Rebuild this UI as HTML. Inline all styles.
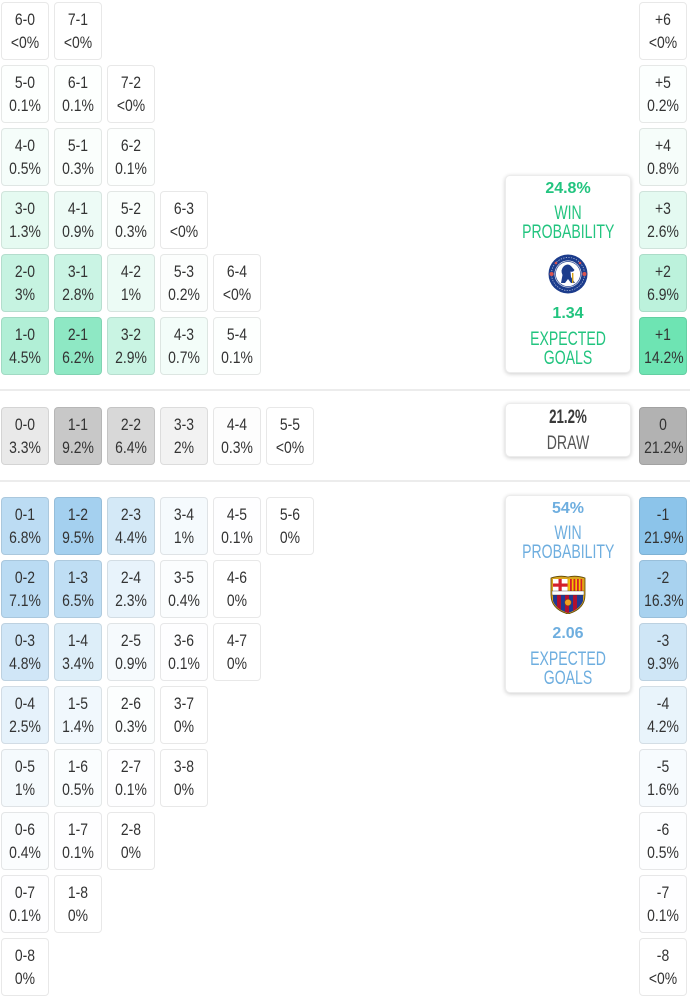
<!DOCTYPE html>
<html><head><meta charset="utf-8">
<style>
html,body{margin:0;padding:0;background:#fff;}
body{width:690px;height:998px;position:relative;overflow:hidden;font-family:"Liberation Sans",sans-serif;}
.c{position:absolute;width:46px;height:51px;padding-top:5px;border:1px solid rgba(0,0,0,0.09);border-radius:4px;text-align:center;font-size:17px;line-height:23px;color:#333;}
.c div{transform:scaleX(0.82);white-space:nowrap;}
.hr{position:absolute;left:0;width:690px;height:2px;background:#ececec;}
.s{position:absolute;left:505px;width:124px;border:1px solid #ececec;border-radius:5px;background:#fff;box-shadow:0 1px 4px rgba(0,0,0,0.2);}
.s .t{position:absolute;left:0;right:0;height:24px;line-height:24px;text-align:center;white-space:nowrap;}
.s .b{font-weight:bold;font-size:16px;}
.s .w{font-size:19px;transform:scaleX(0.74);}
.g{color:#22c47f;}
.bl{color:#6eaedf;}
.cr{position:absolute;left:42px;width:40px;height:40px;}
</style></head><body>

<!-- home rows -->
<div class="c" style="left:1px;top:2px;"><div>6-0</div><div>&lt;0%</div></div>
<div class="c" style="left:54px;top:2px;"><div>7-1</div><div>&lt;0%</div></div>

<div class="c" style="left:1px;top:65px;background:rgba(81,220,164,0.01)"><div>5-0</div><div>0.1%</div></div>
<div class="c" style="left:54px;top:65px;background:rgba(81,220,164,0.01)"><div>6-1</div><div>0.1%</div></div>
<div class="c" style="left:107px;top:65px;"><div>7-2</div><div>&lt;0%</div></div>

<div class="c" style="left:1px;top:128px;background:rgba(81,220,164,0.06)"><div>4-0</div><div>0.5%</div></div>
<div class="c" style="left:54px;top:128px;background:rgba(81,220,164,0.03)"><div>5-1</div><div>0.3%</div></div>
<div class="c" style="left:107px;top:128px;background:rgba(81,220,164,0.01)"><div>6-2</div><div>0.1%</div></div>

<div class="c" style="left:1px;top:191px;background:rgba(81,220,164,0.15)"><div>3-0</div><div>1.3%</div></div>
<div class="c" style="left:54px;top:191px;background:rgba(81,220,164,0.1)"><div>4-1</div><div>0.9%</div></div>
<div class="c" style="left:107px;top:191px;background:rgba(81,220,164,0.03)"><div>5-2</div><div>0.3%</div></div>
<div class="c" style="left:160px;top:191px;"><div>6-3</div><div>&lt;0%</div></div>

<div class="c" style="left:1px;top:254px;background:rgba(81,220,164,0.33)"><div>2-0</div><div>3%</div></div>
<div class="c" style="left:54px;top:254px;background:rgba(81,220,164,0.3)"><div>3-1</div><div>2.8%</div></div>
<div class="c" style="left:107px;top:254px;background:rgba(81,220,164,0.11)"><div>4-2</div><div>1%</div></div>
<div class="c" style="left:160px;top:254px;background:rgba(81,220,164,0.02)"><div>5-3</div><div>0.2%</div></div>
<div class="c" style="left:213px;top:254px;"><div>6-4</div><div>&lt;0%</div></div>

<div class="c" style="left:1px;top:317px;background:rgba(81,220,164,0.45)"><div>1-0</div><div>4.5%</div></div>
<div class="c" style="left:54px;top:317px;background:rgba(81,220,164,0.65)"><div>2-1</div><div>6.2%</div></div>
<div class="c" style="left:107px;top:317px;background:rgba(81,220,164,0.31)"><div>3-2</div><div>2.9%</div></div>
<div class="c" style="left:160px;top:317px;background:rgba(81,220,164,0.07)"><div>4-3</div><div>0.7%</div></div>
<div class="c" style="left:213px;top:317px;background:rgba(81,220,164,0.01)"><div>5-4</div><div>0.1%</div></div>

<!-- right home -->
<div class="c" style="left:639px;top:2px;"><div>+6</div><div>&lt;0%</div></div>
<div class="c" style="left:639px;top:65px;background:rgba(33,213,139,0.01)"><div>+5</div><div>0.2%</div></div>
<div class="c" style="left:639px;top:128px;background:rgba(33,213,139,0.04)"><div>+4</div><div>0.8%</div></div>
<div class="c" style="left:639px;top:191px;background:rgba(33,213,139,0.12)"><div>+3</div><div>2.6%</div></div>
<div class="c" style="left:639px;top:254px;background:rgba(33,213,139,0.3)"><div>+2</div><div>6.9%</div></div>
<div class="c" style="left:639px;top:317px;background:rgba(33,213,139,0.65)"><div>+1</div><div>14.2%</div></div>

<div class="hr" style="top:389px;"></div>

<!-- draw -->
<div class="c" style="left:1px;top:407px;background:rgba(198,198,198,0.38)"><div>0-0</div><div>3.3%</div></div>
<div class="c" style="left:54px;top:407px;background:rgba(198,198,198,0.97)"><div>1-1</div><div>9.2%</div></div>
<div class="c" style="left:107px;top:407px;background:rgba(198,198,198,0.68)"><div>2-2</div><div>6.4%</div></div>
<div class="c" style="left:160px;top:407px;background:rgba(198,198,198,0.23)"><div>3-3</div><div>2%</div></div>
<div class="c" style="left:213px;top:407px;background:rgba(198,198,198,0.04)"><div>4-4</div><div>0.3%</div></div>
<div class="c" style="left:266px;top:407px;"><div>5-5</div><div>&lt;0%</div></div>
<div class="c" style="left:639px;top:407px;background:rgba(176,176,176,0.97)"><div>0</div><div>21.2%</div></div>

<div class="hr" style="top:480px;"></div>

<!-- away rows -->
<div class="c" style="left:1px;top:497px;background:rgba(164,208,239,0.74)"><div>0-1</div><div>6.8%</div></div>
<div class="c" style="left:54px;top:497px;background:rgba(164,208,239,1)"><div>1-2</div><div>9.5%</div></div>
<div class="c" style="left:107px;top:497px;background:rgba(164,208,239,0.47)"><div>2-3</div><div>4.4%</div></div>
<div class="c" style="left:160px;top:497px;background:rgba(164,208,239,0.11)"><div>3-4</div><div>1%</div></div>
<div class="c" style="left:213px;top:497px;background:rgba(164,208,239,0.01)"><div>4-5</div><div>0.1%</div></div>
<div class="c" style="left:266px;top:497px;"><div>5-6</div><div>0%</div></div>

<div class="c" style="left:1px;top:560px;background:rgba(164,208,239,0.76)"><div>0-2</div><div>7.1%</div></div>
<div class="c" style="left:54px;top:560px;background:rgba(164,208,239,0.7)"><div>1-3</div><div>6.5%</div></div>
<div class="c" style="left:107px;top:560px;background:rgba(164,208,239,0.25)"><div>2-4</div><div>2.3%</div></div>
<div class="c" style="left:160px;top:560px;background:rgba(164,208,239,0.04)"><div>3-5</div><div>0.4%</div></div>
<div class="c" style="left:213px;top:560px;"><div>4-6</div><div>0%</div></div>

<div class="c" style="left:1px;top:623px;background:rgba(164,208,239,0.52)"><div>0-3</div><div>4.8%</div></div>
<div class="c" style="left:54px;top:623px;background:rgba(164,208,239,0.37)"><div>1-4</div><div>3.4%</div></div>
<div class="c" style="left:107px;top:623px;background:rgba(164,208,239,0.1)"><div>2-5</div><div>0.9%</div></div>
<div class="c" style="left:160px;top:623px;background:rgba(164,208,239,0.01)"><div>3-6</div><div>0.1%</div></div>
<div class="c" style="left:213px;top:623px;"><div>4-7</div><div>0%</div></div>

<div class="c" style="left:1px;top:686px;background:rgba(164,208,239,0.27)"><div>0-4</div><div>2.5%</div></div>
<div class="c" style="left:54px;top:686px;background:rgba(164,208,239,0.15)"><div>1-5</div><div>1.4%</div></div>
<div class="c" style="left:107px;top:686px;background:rgba(164,208,239,0.03)"><div>2-6</div><div>0.3%</div></div>
<div class="c" style="left:160px;top:686px;"><div>3-7</div><div>0%</div></div>

<div class="c" style="left:1px;top:749px;background:rgba(164,208,239,0.11)"><div>0-5</div><div>1%</div></div>
<div class="c" style="left:54px;top:749px;background:rgba(164,208,239,0.05)"><div>1-6</div><div>0.5%</div></div>
<div class="c" style="left:107px;top:749px;background:rgba(164,208,239,0.01)"><div>2-7</div><div>0.1%</div></div>
<div class="c" style="left:160px;top:749px;"><div>3-8</div><div>0%</div></div>

<div class="c" style="left:1px;top:812px;background:rgba(164,208,239,0.04)"><div>0-6</div><div>0.4%</div></div>
<div class="c" style="left:54px;top:812px;background:rgba(164,208,239,0.01)"><div>1-7</div><div>0.1%</div></div>
<div class="c" style="left:107px;top:812px;"><div>2-8</div><div>0%</div></div>

<div class="c" style="left:1px;top:875px;background:rgba(164,208,239,0.01)"><div>0-7</div><div>0.1%</div></div>
<div class="c" style="left:54px;top:875px;"><div>1-8</div><div>0%</div></div>

<div class="c" style="left:1px;top:938px;"><div>0-8</div><div>0%</div></div>

<!-- right away -->
<div class="c" style="left:639px;top:497px;background:rgba(140,196,234,1)"><div>-1</div><div>21.9%</div></div>
<div class="c" style="left:639px;top:560px;background:rgba(140,196,234,0.76)"><div>-2</div><div>16.3%</div></div>
<div class="c" style="left:639px;top:623px;background:rgba(140,196,234,0.42)"><div>-3</div><div>9.3%</div></div>
<div class="c" style="left:639px;top:686px;background:rgba(140,196,234,0.19)"><div>-4</div><div>4.2%</div></div>
<div class="c" style="left:639px;top:749px;background:rgba(140,196,234,0.07)"><div>-5</div><div>1.6%</div></div>
<div class="c" style="left:639px;top:812px;background:rgba(140,196,234,0.02)"><div>-6</div><div>0.5%</div></div>
<div class="c" style="left:639px;top:875px;background:rgba(140,196,234,0.01)"><div>-7</div><div>0.1%</div></div>
<div class="c" style="left:639px;top:938px;"><div>-8</div><div>&lt;0%</div></div>

<!-- Chelsea summary -->
<div class="s" style="top:175px;height:196px;">
  <div class="t b g" style="top:1px;">24.8%</div>
  <div class="t w g" style="top:26px;">WIN</div>
  <div class="t w g" style="top:45px;">PROBABILITY</div>
  <svg class="cr" style="top:78px;" viewBox="0 0 40 40" width="40" height="40">
    <circle cx="20" cy="20" r="19.5" fill="#1c3c8c"/>
    <circle cx="20" cy="20" r="16.5" fill="none" stroke="#e8ecf5" stroke-width="0.6" stroke-dasharray="1.2 1.4"/>
    <circle cx="3.6" cy="20" r="2" fill="#d9534f"/>
    <circle cx="36.4" cy="20" r="2" fill="#d9534f"/>
    <circle cx="8" cy="9" r="1.3" fill="#d9534f"/>
    <circle cx="32" cy="9" r="1.3" fill="#d9534f"/>
    <circle cx="20" cy="20" r="13.5" fill="#fff"/>
    <circle cx="20" cy="20" r="12.5" fill="none" stroke="#1c3c8c" stroke-width="0.7"/>
    <path d="M13 29 L14.5 21 Q12 16 16 12 Q20 9 23 12 L26.5 16 Q25 18.5 22.5 17.5 L23 23 L27 29 L23 29 L20 25 L17 29 Z" fill="#1c3c8c"/>
    <rect x="24" y="19" width="1.4" height="10" fill="#d4a017"/>
  </svg>
  <div class="t b g" style="top:126px;">1.34</div>
  <div class="t w g" style="top:152px;">EXPECTED</div>
  <div class="t w g" style="top:171px;">GOALS</div>
</div>

<!-- Draw summary -->
<div class="s" style="top:403px;height:52px;">
  <div class="t w" style="top:2px;color:#3a3a3a;font-weight:bold;transform:scaleX(0.7);">21.2%</div>
  <div class="t w" style="top:28px;color:#555;">DRAW</div>
</div>

<!-- Barca summary -->
<div class="s" style="top:495px;height:196px;">
  <div class="t b bl" style="top:1px;">54%</div>
  <div class="t w bl" style="top:26px;">WIN</div>
  <div class="t w bl" style="top:45px;">PROBABILITY</div>
  <svg class="cr" style="top:78px;" viewBox="0 0 40 40" width="40" height="40">
    <defs>
      <clipPath id="sh"><path d="M4 5 Q12 2 20 4 Q28 2 36 5 L36 21 Q36 34 20 39 Q4 34 4 21 Z"/></clipPath>
    </defs>
    <path d="M3 4 Q12 1 20 3 Q28 1 37 4 L37 21 Q37 35 20 40 Q3 35 3 21 Z" fill="#d9a520" stroke="#5a4300" stroke-width="0.8"/>
    <g clip-path="url(#sh)">
      <rect x="5" y="5" width="14.5" height="12" fill="#fff"/>
      <rect x="10.5" y="5" width="3.2" height="12" fill="#d4202a"/>
      <rect x="5" y="9.5" width="14.5" height="3.2" fill="#d4202a"/>
      <rect x="20.5" y="5" width="14.5" height="12" fill="#f5c400"/>
      <rect x="22" y="5" width="1.8" height="12" fill="#d4202a"/>
      <rect x="25.5" y="5" width="1.8" height="12" fill="#d4202a"/>
      <rect x="29" y="5" width="1.8" height="12" fill="#d4202a"/>
      <rect x="32.5" y="5" width="1.8" height="12" fill="#d4202a"/>
      <rect x="5" y="21" width="30" height="18" fill="#1f3a93"/>
      <rect x="9" y="21" width="4" height="18" fill="#b0102f"/>
      <rect x="17" y="21" width="4" height="18" fill="#b0102f"/>
      <rect x="25" y="21" width="4" height="18" fill="#b0102f"/>
      <rect x="4" y="17" width="32" height="4" fill="#fff" stroke="#333" stroke-width="0.4"/>
    </g>
    <circle cx="20" cy="28.5" r="3.2" fill="#f0a020" stroke="#7a4a00" stroke-width="0.4"/>
  </svg>
  <div class="t b bl" style="top:126px;">2.06</div>
  <div class="t w bl" style="top:152px;">EXPECTED</div>
  <div class="t w bl" style="top:171px;">GOALS</div>
</div>

</body></html>
